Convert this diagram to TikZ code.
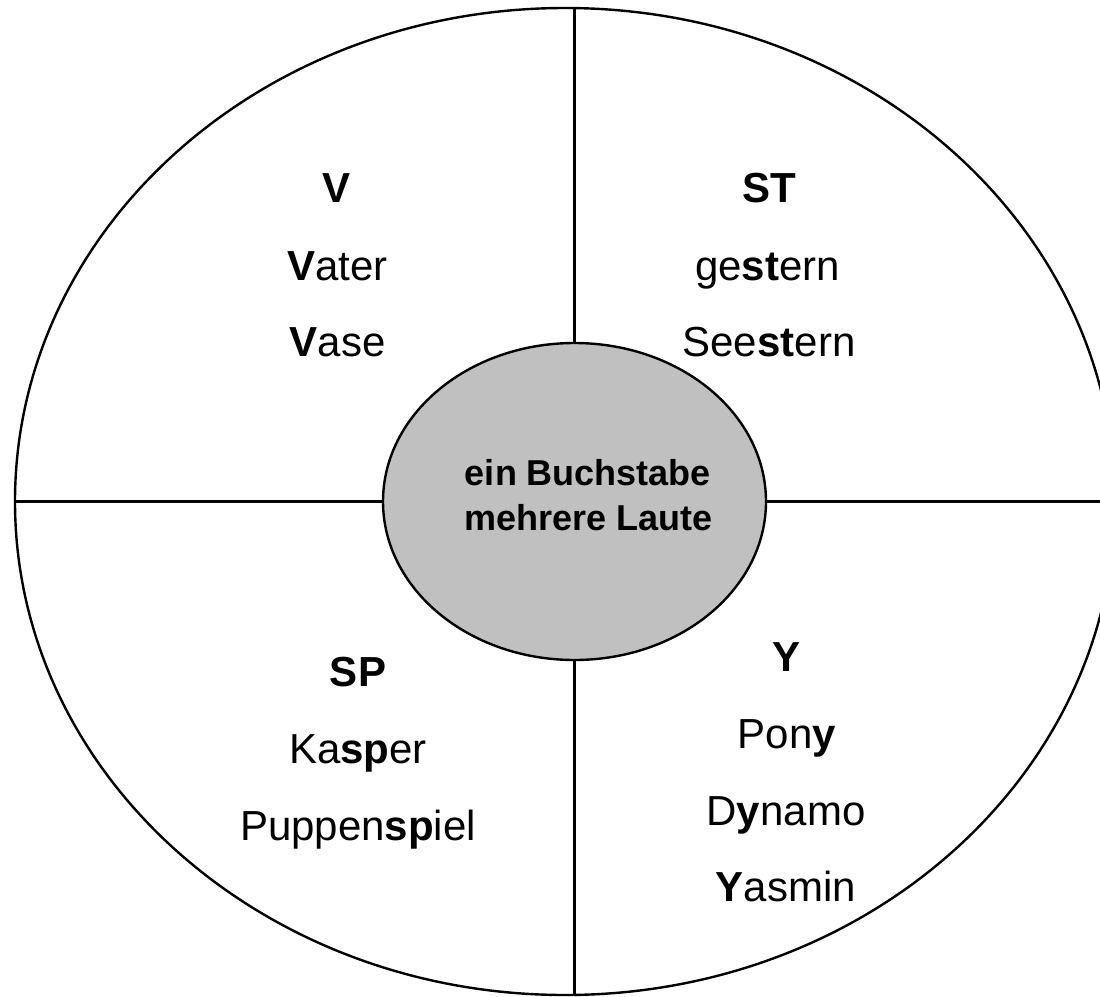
\documentclass[tikz,border=0pt]{standalone}
\usepackage{fontspec}
\setmainfont{Liberation Sans}
\usetikzlibrary{shapes.geometric}
\definecolor{coregray}{RGB}{192,192,192}
\begin{document}
\begin{tikzpicture}[x=1pt,y=-1pt,
  ring/.style={ellipse, draw=black, line width=2.4pt, inner sep=0pt},
  word/.style={anchor=base, inner sep=0pt, font=\fontsize{42}{48}\selectfont},
  core/.style={anchor=base, inner sep=0pt, font=\bfseries\fontsize{36}{42}\selectfont},
  divider/.style={draw=black, line width=2.4pt},
  thickdivider/.style={draw=black, line width=3.4pt}]
\useasboundingbox (0,0) rectangle (1100,996);
\clip (0,0) rectangle (1100,996);
\fill[white] (0,0) rectangle (1100,996);
% outer ellipse
\node[ring, minimum width=1100pt, minimum height=987pt] (outer) at (565,501.5) {};
\coordinate (c) at (574.5,501.5);
% dividers
\draw[divider] (c |- outer.north) -- (c |- outer.south);
\draw[thickdivider] (outer.west) -- (c -| outer.east);
% inner ellipse
\node[ring, fill=coregray, minimum width=383pt, minimum height=317pt] (inner) at (c) {};
\node[core] (t1) at (588,485) {ein Buchstabe};
\node[core] (t2) at (589,530) {mehrere Laute};
% top left
\node[word] (v0) at (336.7,202.7) {\textbf{V}};
\node[word] (v1) at (337.5,280) {\textbf{V}ater};
\node[word] (v2) at (337.5,356.7) {\textbf{V}ase};
% top right
\node[word] (s0) at (769,202.7) {\textbf{ST}};
\node[word] (s1) at (767.5,280) {ge\textbf{st}ern};
\node[word] (s2) at (769,356.7) {See\textbf{st}ern};
% bottom left
\node[word] (p0) at (358,686.7) {\textbf{SP}};
\node[word] (p1) at (358,763.3) {Ka\textbf{sp}er};
\node[word] (p2) at (358,840) {Puppen\textbf{sp}iel};
% bottom right
\node[word] (y0) at (786.7,671.7) {\textbf{Y}};
\node[word] (y1) at (786.7,748.3) {Pon\textbf{y}};
\node[word] (y2) at (786,825) {D\textbf{y}namo};
\node[word] (y3) at (786,901.7) {\textbf{Y}asmin};
\end{tikzpicture}
\end{document}
